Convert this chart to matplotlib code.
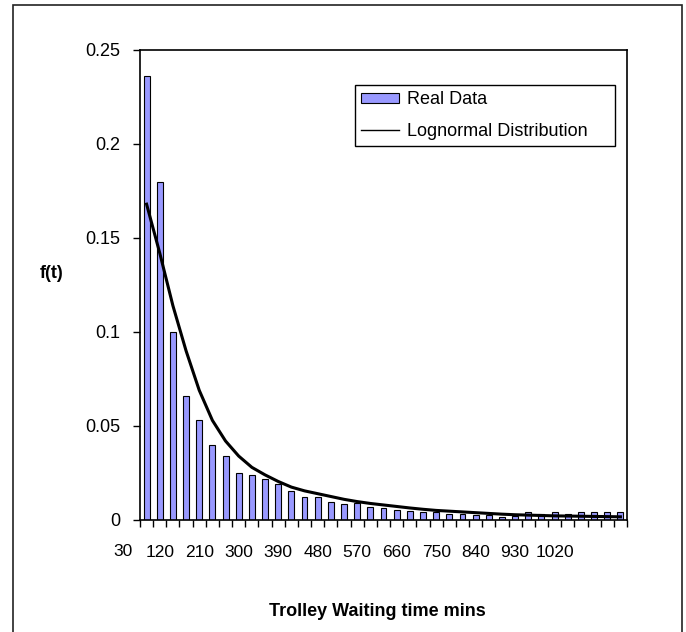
import matplotlib.pyplot as plt
from matplotlib.lines import Line2D
from matplotlib.patches import Patch, Rectangle

plt.rcParams["font.family"] = ["Liberation Sans", "DejaVu Sans"]

# waiting time categories (mins), one bar each
wait_bins = list(range(90, 1171, 30))

real_data = [0.236, 0.180, 0.100, 0.066, 0.053, 0.040, 0.034, 0.025, 0.024, 0.022,
             0.019, 0.0155, 0.012, 0.012, 0.0096, 0.0086, 0.0088, 0.0069, 0.0066, 0.0053,
             0.0049, 0.0043, 0.0043, 0.0034, 0.0030, 0.0028, 0.0027, 0.0018, 0.0021, 0.0041,
             0.0032, 0.0043, 0.0032, 0.0043, 0.0043, 0.0043, 0.0043]

lognormal = [0.168, 0.142, 0.114, 0.090, 0.069, 0.053, 0.042, 0.034, 0.028, 0.024,
             0.0205, 0.0175, 0.0155, 0.0140, 0.0125, 0.0110, 0.0098, 0.0088, 0.0080, 0.0072,
             0.0064, 0.0057, 0.0051, 0.0047, 0.0043, 0.0039, 0.0035, 0.0031, 0.0028, 0.0026,
             0.0024, 0.0022, 0.0021, 0.0020, 0.0019, 0.0018, 0.0017]

x_labels = ["120", "210", "300", "390", "480", "570", "660", "750", "840", "930", "1020"]
first_label = "30"

y_ticks = [0, 0.05, 0.1, 0.15, 0.2, 0.25]
y_labels = ["0", "0.05", "0.1", "0.15", "0.2", "0.25"]

bar_color = "#9999ff"

W, H = 686, 632
fig = plt.figure(figsize=(W / 100, H / 100), dpi=100)
ax = fig.add_axes([140 / W, 1 - 520 / H, 487 / W, 470 / H])

idx = list(range(len(wait_bins)))
ax.bar(idx, real_data, width=0.45, color=bar_color, edgecolor="black", linewidth=0.8, zorder=2)
ax.plot(idx, lognormal, color="black", lw=2.2, zorder=3)

ax.set_xlim(-0.5, len(wait_bins) - 0.5)
ax.set_ylim(0, 0.25)

ax.set_yticks(y_ticks, y_labels)
ax.tick_params(axis="y", direction="out", length=5, width=1, pad=9, labelsize=13)

# category boundary ticks
ax.set_xticks([i - 0.5 for i in range(len(wait_bins) + 1)], [""] * (len(wait_bins) + 1))
ax.tick_params(axis="x", which="major", direction="out", length=5, width=1)
label_idx = [wait_bins.index(int(s)) for s in x_labels]
ax.set_xticks(label_idx, x_labels, minor=True)
ax.tick_params(axis="x", which="minor", length=0, pad=18, labelsize=12.5)

for sp in ax.spines.values():
    sp.set_linewidth(1.2)

fig.text(123 / W, 1 - 551 / H, first_label, ha="center", va="center", fontsize=12.5)
fig.text(52 / W, 1 - 273 / H, "f(t)", ha="center", va="center", fontsize=13, fontweight="bold")
fig.text(377 / W, 1 - 612 / H, "Trolley Waiting time mins", ha="center", va="center",
         fontsize=13, fontweight="bold")

handles = [Patch(facecolor=bar_color, edgecolor="black", linewidth=0.8),
           Line2D([], [], color="black", lw=1)]
leg = fig.legend(handles, ["Real Data", "Lognormal Distribution"],
                 bbox_to_anchor=(355 / W, 1 - 148 / H, 260 / W, 65 / H), loc="center",
                 mode="expand", fontsize=13, handlelength=2.1, handleheight=0.45,
                 handletextpad=0.45, labelspacing=0.8, borderpad=0.35, borderaxespad=0,
                 fancybox=False, framealpha=1)
leg.get_frame().set_edgecolor("black")
leg.get_frame().set_linewidth(1)

fig.patches.append(Rectangle((13 / W, -0.05), (682 - 13) / W, 1.05 - 5 / H,
                             transform=fig.transFigure, fill=False,
                             edgecolor="#222222", lw=1.2, clip_on=False))

fig.savefig("out.png", dpi=100)
